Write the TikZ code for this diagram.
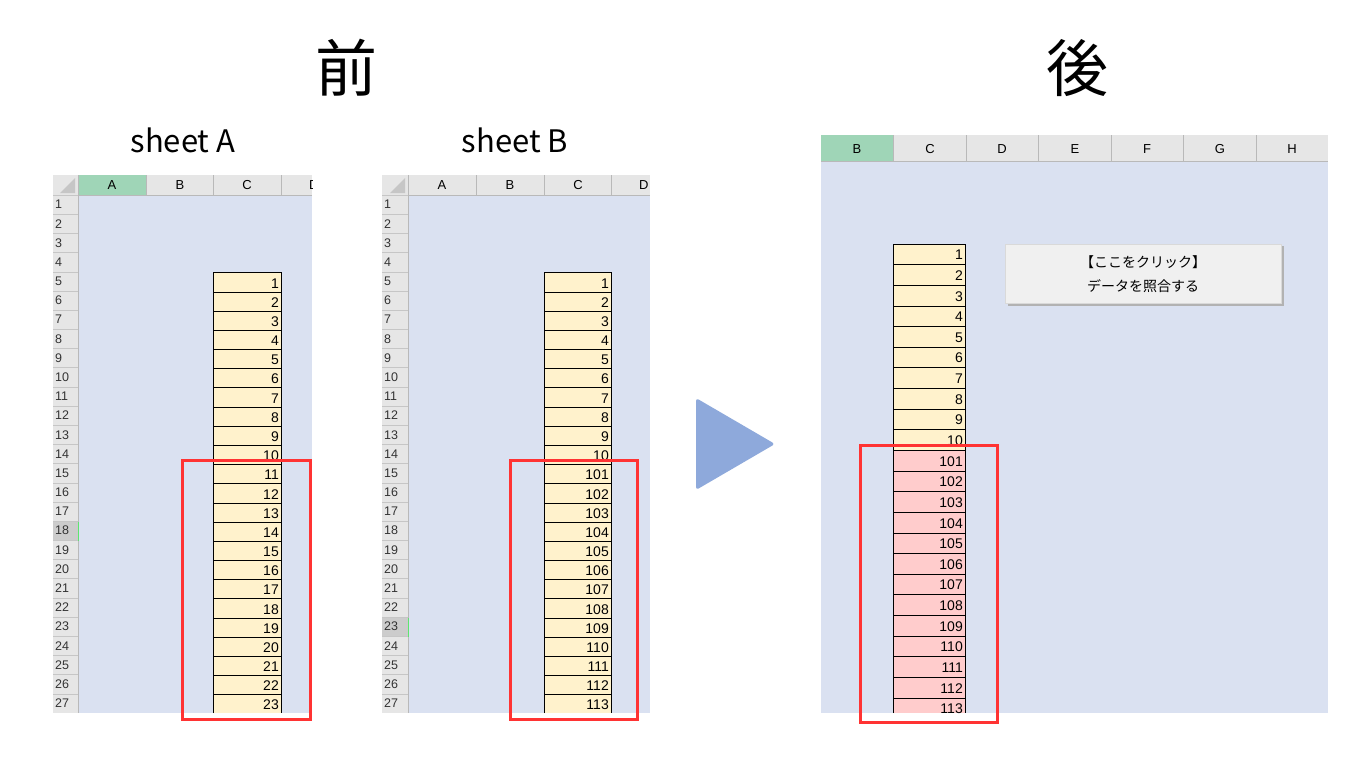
\documentclass[tikz,border=0pt]{standalone}
\usepackage{fontspec}
\setmainfont{Liberation Sans}
\newfontfamily\cjk{Noto Sans CJK JP}
\begin{document}
\begin{tikzpicture}[x=1pt,y=-1pt,
  redbox/.style={draw=red!80!white, line width=3pt},
  num/.style={font=\fontsize{14}{14}\selectfont, anchor=east, inner sep=2pt},
  rn/.style={font=\fontsize{12.5}{12.5}\selectfont, anchor=west, inner sep=0pt, text=black!80}]
\useasboundingbox (0,0) rectangle (1366,768);
\definecolor{sheetbg}{HTML}{DAE1F1}
\definecolor{hdrgray}{HTML}{E6E6E6}
\definecolor{selg}{HTML}{9FD5B7}
\definecolor{yel}{HTML}{FFF2CC}
\definecolor{pnk}{HTML}{FFCCCC}
\definecolor{tri}{HTML}{8EA9DB}
\tikzset{ycell/.style={fill=yel,draw=black,line width=0.6pt},
 pcell/.style={fill=pnk,draw=black,line width=0.6pt}}
% titles
\node[font=\cjk\fontsize{62}{62}\selectfont] (tb) at (346,68) {前};
\node[font=\cjk\fontsize{62}{62}\selectfont] (ta) at (1077,68) {後};
\node[font=\cjk\fontsize{31}{31}\selectfont] (sa) at (183,140) {sheet A};
\node[font=\cjk\fontsize{31}{31}\selectfont] (sb) at (515,140) {sheet B};
% ---------- sheet A ----------
\fill[sheetbg] (78,195) rectangle (312,713);
\fill[hdrgray] (53,175) rectangle (312,195);
\fill[hdrgray] (53,195) rectangle (78,713);
\fill[gray!45] (75,178) -- (75,193) -- (60,193) -- cycle;
\fill[selg] (78,175) rectangle (146,195);
\foreach \x/\l/\c in {112/A/A,180/B/B,247/C/C} \node[font=\fontsize{13}{13}\selectfont] (ha\c) at (\x,185) {\l};
\begin{scope}
\clip (53,170) rectangle (312,200);
\node[font=\fontsize{13}{13}\selectfont,anchor=west,inner sep=0pt] (haD) at (309,185) {D};
\end{scope}
\foreach \xx in {146,213,281} \draw[gray!55,line width=0.4pt] (\xx,175) -- (\xx,195);
\draw[gray!55,line width=0.4pt] (53,195) -- (312,195) (78,175) -- (78,713);
\fill[gray!40] (53,522) rectangle (78,541);
\draw[selg!60!green, line width=1pt] (78,522) -- (78,541);
\foreach \r in {1,...,27}{
  \pgfmathsetmacro\yy{195+(\r-1)*19.18}
  \draw[gray!45,line width=0.3pt] (53,\yy) -- (78,\yy);
  \node[rn] (ra\r) at (55,\yy+9.6) {\r};
}
\foreach \r [count=\i] in {1,...,23}{
  \pgfmathsetmacro\yy{272.7+(\i-1)*19.18}
  \pgfmathtruncatemacro\v{\r}
  \ifnum\i<23
  \draw[ycell] (213,\yy) rectangle (281,\yy+19.18);
  \else
  \fill[yel] (213,\yy) rectangle (281,713);
  \draw[black,line width=0.6pt] (213,713) -- (213,\yy) -- (281,\yy) -- (281,713);
  \fi
  \node[num] (ca\i) at (281,\yy+10.5) {\v};
}
\draw[redbox] (182,460) rectangle (310,719);
% ---------- sheet B ----------
\fill[sheetbg] (408,195) rectangle (650,713);
\fill[hdrgray] (382,175) rectangle (650,195);
\fill[hdrgray] (382,195) rectangle (408,713);
\fill[gray!45] (405,178) -- (405,193) -- (390,193) -- cycle;
\foreach \x/\l in {442/A,510/B,578/C} \node[font=\fontsize{13}{13}\selectfont] (hb\l) at (\x,185) {\l};
\begin{scope}
\clip (382,170) rectangle (650,200);
\node[font=\fontsize{13}{13}\selectfont,anchor=west,inner sep=0pt] (hbD) at (639,185) {D};
\end{scope}
\foreach \xx in {476,544,611} \draw[gray!55,line width=0.4pt] (\xx,175) -- (\xx,195);
\draw[gray!55,line width=0.4pt] (382,195) -- (650,195) (408,175) -- (408,713);
\fill[gray!40] (382,618) rectangle (408,637);
\draw[selg!60!green, line width=1pt] (408,618) -- (408,637);
\foreach \r in {1,...,27}{
  \pgfmathsetmacro\yy{195+(\r-1)*19.18}
  \draw[gray!45,line width=0.3pt] (382,\yy) -- (408,\yy);
  \node[rn] (rb\r) at (384,\yy+9.6) {\r};
}
\foreach \v [count=\i] in {1,2,3,4,5,6,7,8,9,10,101,102,103,104,105,106,107,108,109,110,111,112,113}{
  \pgfmathsetmacro\yy{272.7+(\i-1)*19.18}
  \ifnum\i<23
  \draw[ycell] (544,\yy) rectangle (611,\yy+19.18);
  \else
  \fill[yel] (544,\yy) rectangle (611,713);
  \draw[black,line width=0.6pt] (544,713) -- (544,\yy) -- (611,\yy) -- (611,713);
  \fi
  \node[num] (cb\i) at (611,\yy+10.5) {\v};
}
\draw[redbox] (510,460) rectangle (637,719);
% ---------- arrow ----------
\fill[tri, rounded corners=3pt] (696,398) -- (775,444) -- (696,490) -- cycle;
% ---------- after ----------
\fill[sheetbg] (821,161) rectangle (1328,713);
\fill[hdrgray] (821,135) rectangle (1328,161);
\fill[selg] (821,135) rectangle (893,161);
\foreach \x in {893,966,1038,1111,1183,1256} \draw[gray!55,line width=0.4pt] (\x,135) -- (\x,161);
\draw[gray!55,line width=0.4pt] (821,161) -- (1328,161);
\foreach \x/\l in {857/B,930/C,1002/D,1075/E,1147/F,1220/G,1292/H} \node[font=\fontsize{13}{13}\selectfont] (hc\l) at (\x,149) {\l};
\foreach \v [count=\i] in {1,2,3,4,5,6,7,8,9,10,101,102,103,104,105,106,107,108,109,110,111,112,113}{
  \pgfmathsetmacro\yy{244+(\i-1)*20.63}
  \ifnum\i<11 \def\st{ycell}\else\def\st{pcell}\fi
  \ifnum\i<23
  \draw[\st] (893,\yy) rectangle (965,\yy+20.63);
  \else
  \fill[pnk] (893,\yy) rectangle (965,713);
  \draw[black,line width=0.6pt] (893,713) -- (893,\yy) -- (965,\yy) -- (965,713);
  \fi
  \node[num] (cc\i) at (965,\yy+11) {\v};
}
\fill[gray!60] (1008,246) rectangle (1284,306);
\node[draw=gray!30, fill=gray!12, minimum width=276pt, minimum height=59pt, inner sep=0pt, anchor=north west,
  font=\cjk\fontsize{14}{24}\selectfont, align=center] (btn) at (1005,244) {【ここをクリック】\\データを照合する};
\draw[redbox] (860,445) rectangle (997,722);
\end{tikzpicture}
\end{document}
